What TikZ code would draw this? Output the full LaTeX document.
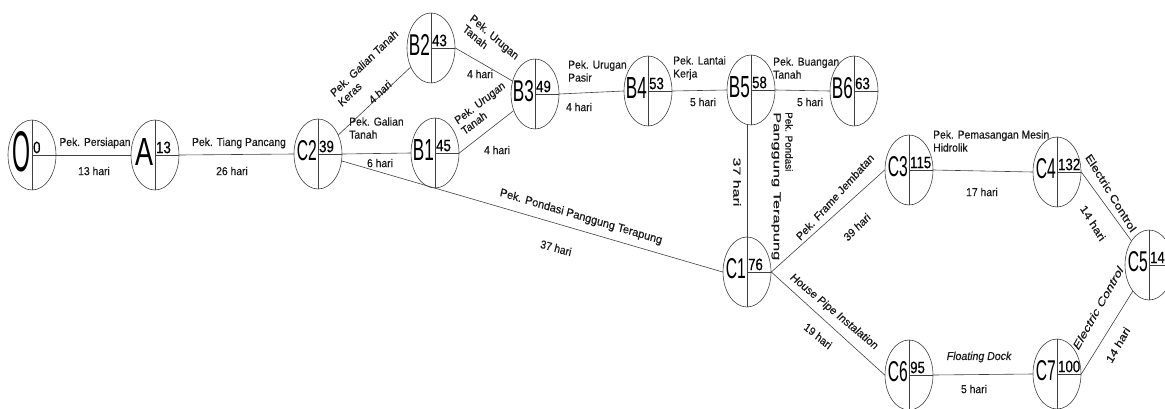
\documentclass[tikz,border=0pt]{standalone}
\usepackage{fontspec}
\setmainfont{Liberation Sans}
\newfontfamily\lblfont{Liberation Sans}[FakeBold=0.4]
\usepackage{graphicx}
\usetikzlibrary{shapes.geometric}
\tikzset{
  ev/.style={draw=black!75, line width=0.6pt, ellipse, minimum width=48pt, minimum height=70pt, inner sep=0pt},
  edge/.style={draw=black!75, line width=0.6pt},
  lbl/.style={font=\lblfont\fontsize{11.5}{13}\selectfont, xscale=0.9, inner sep=0pt, text=black!90},
  lbli/.style={lbl, font=\lblfont\fontsize{11.5}{13}\selectfont\itshape},
  num/.style={font=\lblfont\fontsize{16.5}{18}\selectfont, xscale=0.8, inner sep=0pt, anchor=south west},
}
\newcommand\evnt[7]{%
  \node[ev] (#1) at (#2,#3) {};
  \draw[edge] (#1.north) -- (#1.south);
  \draw[edge] (#1.center) -- (#1.east);
  \node[inner sep=0pt, anchor=east] (#1-l) at ([xshift=-1pt,yshift=3pt]#1.center) {\resizebox{#4pt}{#5pt}{#6}};
  \node[num] (#1-n) at ([xshift=1pt,yshift=1.5pt]#1.center) {#7};
}
\begin{document}
\begin{tikzpicture}[x=1pt,y=-1pt]
\useasboundingbox (0,0) rectangle (1165,408);
% events
\evnt{O}{32}{155}{18}{40}{O}{0}
\evnt{A}{155}{155}{18}{27}{A}{13}
\evnt{C2}{318}{154}{20}{20}{C2}{39}
\evnt{B2}{431}{48}{21}{21}{B2}{43}
\evnt{B1}{435}{153}{21}{21}{B1}{45}
\evnt{B3}{535}{94}{21}{21}{B3}{49}
\evnt{B4}{648}{91}{21}{21}{B4}{53}
\evnt{B5}{751}{90}{21}{21}{B5}{58}
\evnt{B6}{854}{91}{21}{21}{B6}{63}
\evnt{C1}{747}{272}{20}{20}{C1}{76}
\evnt{C3}{909}{170}{20}{20}{C3}{115}
\evnt{C4}{1057}{172}{20}{20}{C4}{132}
\evnt{C5}{1149}{265}{20}{20}{C5}{146}
\evnt{C6}{909}{375}{20}{20}{C6}{95}
\evnt{C7}{1057}{374}{20}{20}{C7}{100}
% connectors
\draw[edge] (O.east) -- (A.west);
\draw[edge] (A.east) -- (C2.west);
\draw[edge] (C2) -- (B2);
\draw[edge] (C2.east) -- (B1.west);
\draw[edge] (B2.east) -- (B3);
\draw[edge] (B1.east) -- (B3);
\draw[edge] (B3.east) -- (B4.west);
\draw[edge] (B4.east) -- (B5.west);
\draw[edge] (B5.east) -- (B6.west);
\draw[edge] (C1.north |- B5.south) -- (C1.north);
\draw[edge] (C2) -- (C1.west);
\draw[edge] (C1.east) -- (C3.west);
\draw[edge] (C1.east) -- (C6.west);
\draw[edge] (C3.east) -- (C4.west);
\draw[edge] (C4.east) -- (C5);
\draw[edge] (C6.east) -- (C7.west);
\draw[edge] (C7.east) -- (C5);
% labels
\node[lbl] (l1) at (95,143) {Pek. Persiapan};
\node[lbl] (d1) at (94,171) {13 hari};
\node[lbl] (l2) at (239,143) {Pek. Tiang Pancang};
\node[lbl] (d2) at (232,171) {26 hari};
\node[lbl, rotate=41, align=left] (l3) at (368,68) {Pek. Galian Tanah\\Keras};
\node[lbl, rotate=41] (d3) at (380,92) {4 hari};
\node[lbl, align=left, anchor=west] (l4) at (349,128) {Pek. Galian\\Tanah};
\node[lbl] (d4) at (380,163) {6 hari};
\node[lbl, rotate=-38, align=left] (l5) at (491,42) {Pek. Urugan\\Tanah};
\node[lbl] (d5) at (480,74) {4 hari};
\node[lbl, rotate=35, align=left] (l6) at (483,108) {Pek. Urugan\\Tanah};
\node[lbl] (d6) at (497,150) {4 hari};
\node[lbl, align=left, anchor=west] (l7) at (568,71) {Pek. Urugan\\Pasir};
\node[lbl] (d7) at (579,107) {4 hari};
\node[lbl, align=left, anchor=west] (l8) at (673,68) {Pek. Lantai\\Kerja};
\node[lbl] (d8) at (703,102) {5 hari};
\node[lbl, align=left, anchor=west] (l9) at (773,68) {Pek. Buangan\\Tanah};
\node[lbl] (d9) at (810,102) {5 hari};
\node[lbl, rotate=-90, xscale=1.39] (d10) at (737,182) {37 hari};
\node[lbl, rotate=-90, align=left, anchor=north west] (l10) at (793,112) {\scalebox{0.86}[1]{Pek. Pondasi}\\\scalebox{1.43}[1]{Panggung Terapung}};
\node[lbl, rotate=-15, xscale=1.06] (l11) at (581,217) {Pek. Pondasi Panggung Terapung};
\node[lbl, rotate=-14] (d11) at (556,248) {37 hari};
\node[lbl, rotate=45, xscale=1.02] (l12) at (835,197) {Pek. Frame Jembatan};
\node[lbl, rotate=42] (d12) at (857,227) {39 hari};
\node[lbl, align=left, anchor=west] (l13) at (933,141) {Pek. Pemasangan Mesin\\Hidrolik};
\node[lbl] (d13) at (982,192) {17 hari};
\node[lbl, rotate=-56, xscale=1.17] (l14) at (1111,193) {Electric Control};
\node[lbl, rotate=-56, xscale=1.15] (d14) at (1093,223) {14 hari};
\node[lbli, rotate=58, xscale=1.22] (l15) at (1098,308) {Electric Control};
\node[lbl, rotate=58, xscale=1.13] (d15) at (1118,345) {14 hari};
\node[lbli, xscale=1.02] (l16) at (979,357) {Floating Dock};
\node[lbl] (d16) at (974,389) {5 hari};
\node[lbli, rotate=-37, xscale=1.03] (l17) at (834,312) {House Pipe Instalation};
\node[lbl, rotate=-37] (d17) at (818,336) {19 hari};
\end{tikzpicture}
\end{document}
